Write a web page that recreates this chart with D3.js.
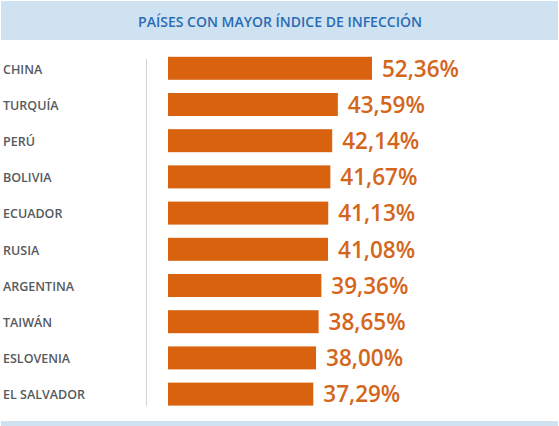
<!DOCTYPE html>
<html><head><meta charset="utf-8">
<script src="https://cdn.jsdelivr.net/npm/d3@7/dist/d3.min.js"></script>
<style>html,body{margin:0;padding:0;background:#fff;}</style>
</head><body>
<svg id="c" width="559" height="426"></svg>
<script>
const title = "PAÍSES CON MAYOR ÍNDICE DE INFECCIÓN";
const countries = ["CHINA","TURQUÍA","PERÚ","BOLIVIA","ECUADOR","RUSIA","ARGENTINA","TAIWÁN","ESLOVENIA","EL SALVADOR"];
const values = [52.36,43.59,42.14,41.67,41.13,41.08,39.36,38.65,38.00,37.29];
const valueLabels = ["52,36%","43,59%","42,14%","41,67%","41,13%","41,08%","39,36%","38,65%","38,00%","37,29%"];

const data = countries.map((c,i)=>({c, v:values[i], l:valueLabels[i]}));
const svg = d3.select("#c");
const font = "'Open Sans', sans-serif";

svg.append("rect").attr("x",1).attr("y",1).attr("width",557).attr("height",39).attr("fill","#cfe2f1");
svg.append("text").attr("x",280).attr("y",27).attr("text-anchor","middle")
  .attr("font-family",font).attr("font-weight",600).attr("font-size",14)
  .attr("fill","#2a6cb3").text(title);
svg.append("rect").attr("x",1).attr("y",421).attr("width",557).attr("height",5).attr("fill","#cfe2f1");

const y = d3.scaleBand().domain(countries).range([50.1,412.3]).paddingInner(0.365).paddingOuter(0.185);
const x = d3.scaleLinear().domain([0,52.36]).range([168,372]);

svg.append("line").attr("x1",146.5).attr("x2",146.5).attr("y1",59).attr("y2",406)
  .attr("stroke","#d4d4d4").attr("stroke-width",1);

const g = svg.append("g");
g.selectAll("rect.bar").data(data).join("rect").attr("class","bar")
  .attr("x",x(0)).attr("y",d=>y(d.c)).attr("width",d=>x(d.v)-x(0)).attr("height",y.bandwidth())
  .attr("fill","#d9620f");
g.selectAll("text.val").data(data).join("text").attr("class","val")
  .attr("x",d=>x(d.v)+10).attr("y",d=>y(d.c)+y.bandwidth()/2).attr("dy","0.37em")
  .attr("font-family",font).attr("font-weight",600).attr("font-size",22.5)
  .attr("fill","#d4661c").text(d=>d.l);
g.selectAll("text.cat").data(data).join("text").attr("class","cat")
  .attr("x",3).attr("y",d=>y(d.c)+y.bandwidth()/2).attr("dy","0.42em")
  .attr("font-family",font).attr("font-weight",600).attr("font-size",12.5)
  .attr("fill","#555a5e").text(d=>d.c);
</script>
</body></html>
